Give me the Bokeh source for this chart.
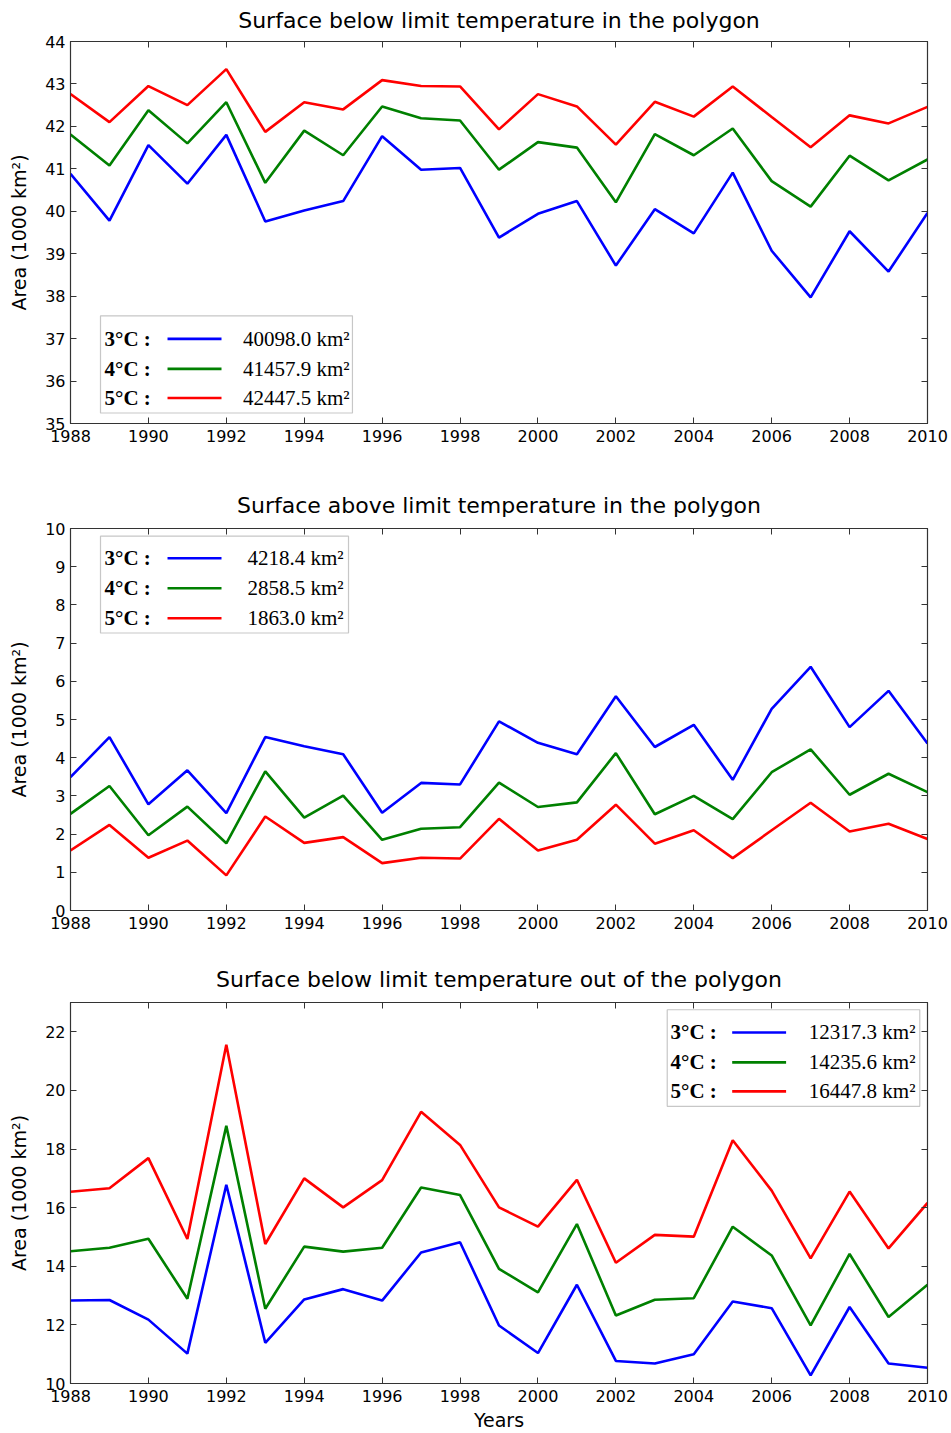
from bokeh.plotting import figure
from bokeh.models import (FixedTicker, LinearAxis, Range1d, Label, BoxAnnotation)
from bokeh.layouts import column
from bokeh.embed import file_html
from bokeh.resources import INLINE

years = list(range(1988, 2011))

# Panel 1: Surface below limit temperature in the polygon (1000 km2)
p1_3c = [40.88, 39.78, 41.56, 40.65, 41.80, 39.76, 40.02, 40.24, 41.77, 40.98, 41.02,
         39.38, 39.94, 40.24, 38.72, 40.05, 39.48, 40.91, 39.07, 37.97, 39.53, 38.58, 39.96]
p1_4c = [41.81, 41.08, 42.38, 41.60, 42.57, 40.67, 41.90, 41.32, 42.47, 42.19, 42.14,
         40.98, 41.63, 41.50, 40.21, 41.82, 41.32, 41.95, 40.71, 40.11, 41.31, 40.73, 41.22]
p1_5c = [42.76, 42.10, 42.95, 42.50, 43.35, 41.87, 42.57, 42.40, 43.09, 42.95, 42.94,
         41.93, 42.76, 42.47, 41.57, 42.58, 42.23, 42.94, 42.22, 41.51, 42.26, 42.07, 42.46]
p1_legend = ["40098.0 km²", "41457.9 km²", "42447.5 km²"]

# Panel 2: Surface above limit temperature in the polygon (1000 km2)
p2_3c = [3.49, 4.54, 2.78, 3.67, 2.55, 4.54, 4.30, 4.09, 2.56, 3.34, 3.30,
         4.95, 4.39, 4.09, 5.61, 4.28, 4.86, 3.42, 5.28, 6.38, 4.80, 5.75, 4.37]
p2_4c = [2.53, 3.26, 1.97, 2.72, 1.76, 3.64, 2.43, 3.01, 1.85, 2.14, 2.18,
         3.35, 2.71, 2.83, 4.12, 2.52, 3.00, 2.39, 3.62, 4.22, 3.03, 3.58, 3.10]
p2_5c = [1.57, 2.24, 1.38, 1.83, 0.92, 2.46, 1.77, 1.92, 1.24, 1.38, 1.36,
         2.40, 1.57, 1.85, 2.77, 1.75, 2.10, 1.37, 2.10, 2.82, 2.07, 2.27, 1.87]
p2_legend = ["4218.4 km²", "2858.5 km²", "1863.0 km²"]

# Panel 3: Surface below limit temperature out of the polygon (1000 km2)
p3_3c = [12.83, 12.85, 12.18, 11.02, 16.78, 11.39, 12.87, 13.22, 12.83, 14.47, 14.82,
         11.98, 11.04, 13.37, 10.77, 10.68, 11.00, 12.80, 12.57, 10.28, 12.61, 10.68, 10.54]
p3_4c = [14.51, 14.63, 14.94, 12.89, 18.79, 12.55, 14.67, 14.50, 14.63, 16.69, 16.43,
         13.91, 13.11, 15.44, 12.32, 12.86, 12.91, 15.35, 14.37, 11.98, 14.42, 12.27, 13.37]
p3_5c = [16.54, 16.66, 17.69, 14.93, 21.56, 14.76, 17.00, 16.01, 16.94, 19.27, 18.14,
         16.01, 15.35, 16.95, 14.12, 15.07, 15.01, 18.30, 16.58, 14.27, 16.55, 14.61, 16.16]
p3_legend = ["12317.3 km²", "14235.6 km²", "16447.8 km²"]

titles = ["Surface below limit temperature in the polygon",
          "Surface above limit temperature in the polygon",
          "Surface below limit temperature out of the polygon"]
legend_labels = ["3°C :", "4°C :", "5°C :"]
colors = ["#0000ff", "#008000", "#ff0000"]
x_ticks = list(range(1988, 2011, 2))

SANS = "DejaVu Sans"
SERIF = "Liberation Serif"


def make_panel(title, ylo, yhi, yticks, series, legend_vals, box, rows, lab_x, line_x,
               val_x, height, top, bottom, title_standoff, title_valign, xlabel=None):
    p = figure(width=949, height=height, output_backend="svg", toolbar_location=None,
               x_range=Range1d(1988, 2010), y_range=Range1d(ylo, yhi),
               min_border_left=70, min_border_right=22,
               min_border_top=top, min_border_bottom=bottom,
               background_fill_color="white", border_fill_color="white")
    p.title.text = title
    p.title.align = "center"
    p.title.text_font = SANS
    p.title.text_font_size = "22px"
    p.title.text_font_style = "normal"
    p.title.text_color = "black"
    p.title.standoff = title_standoff
    p.title.vertical_align = title_valign
    p.grid.visible = False
    p.outline_line_color = "#333333"
    p.outline_line_width = 1.2

    for ax in (p.xaxis[0], p.yaxis[0]):
        ax.major_tick_in = 6
        ax.major_tick_out = 0
        ax.minor_tick_line_color = None
        ax.axis_line_color = "#333333"
        ax.major_tick_line_color = "#333333"
        ax.major_label_text_font = SANS
        ax.major_label_text_font_size = "16px"
        ax.major_label_text_color = "black"
    p.xaxis[0].ticker = FixedTicker(ticks=x_ticks)
    p.yaxis[0].ticker = FixedTicker(ticks=yticks)
    p.xaxis[0].major_label_standoff = 6
    p.yaxis[0].major_label_standoff = 5
    p.yaxis[0].axis_label = "Area (1000 km²)"
    p.yaxis[0].axis_label_text_font = SANS
    p.yaxis[0].axis_label_text_font_size = "19px"
    p.yaxis[0].axis_label_text_font_style = "normal"
    p.yaxis[0].axis_label_text_color = "black"
    p.yaxis[0].axis_label_standoff = 12
    if xlabel:
        p.xaxis[0].axis_label = xlabel
        p.xaxis[0].axis_label_text_font = SANS
        p.xaxis[0].axis_label_text_font_size = "19px"
        p.xaxis[0].axis_label_text_font_style = "normal"
        p.xaxis[0].axis_label_text_color = "black"
        p.xaxis[0].axis_label_standoff = 4

    # mirrored inward ticks on the top and right edges
    for loc, tk in (("above", x_ticks), ("right", yticks)):
        ax = LinearAxis(ticker=FixedTicker(ticks=tk), major_tick_in=6, major_tick_out=0,
                        minor_tick_line_color=None,
                        major_label_overrides={t: "" for t in tk},
                        major_label_text_font_size="1px",
                        major_label_standoff=0, axis_line_color="#333333",
                        major_tick_line_color="#333333")
        p.add_layout(ax, loc)

    for ys, c in zip(series, colors):
        p.line(years, ys, line_color=c, line_width=2.6)

    # legend, positioned as fractions of the frame
    fx = lambda f: 1988 + f * 22
    fy = lambda f: ylo + f * (yhi - ylo)
    p.add_layout(BoxAnnotation(left=fx(box[0]), right=fx(box[1]), bottom=fy(box[2]), top=fy(box[3]),
                               fill_color="white", fill_alpha=1.0, line_color="#444444",
                               line_width=1.2, level="annotation"))
    for i in range(3):
        yy = fy(rows[i])
        p.add_layout(Label(x=fx(lab_x), y=yy, text=legend_labels[i], text_font=SERIF,
                           text_font_style="bold", text_font_size="21px",
                           text_baseline="middle", text_align="left", text_color="black",
                           level="overlay"))
        p.segment(x0=[fx(line_x[0])], y0=[yy], x1=[fx(line_x[1])], y1=[yy],
                  line_color=colors[i], line_width=2.6, level="overlay")
        p.add_layout(Label(x=fx(val_x), y=yy, text=legend_vals[i], text_font=SERIF,
                           text_font_size="21px", text_baseline="middle",
                           text_align="right", text_color="black", level="overlay"))
    return p


p1 = make_panel(titles[0], 35, 44, list(range(35, 45)),
                [p1_3c, p1_4c, p1_5c], p1_legend,
                box=(0.035, 0.329, 0.0275, 0.282), rows=(0.2215, 0.143, 0.0668),
                lab_x=0.0397, line_x=(0.1132, 0.1762), val_x=0.3256,
                height=470, top=41, bottom=47, title_standoff=14, title_valign="top")
p2 = make_panel(titles[1], 0, 10, list(range(0, 11)),
                [p2_3c, p2_4c, p2_5c], p2_legend,
                box=(0.035, 0.3244, 0.7265, 0.98), rows=(0.922, 0.8436, 0.765),
                lab_x=0.0397, line_x=(0.1132, 0.1762), val_x=0.3186,
                height=475, top=58, bottom=35, title_standoff=22, title_valign="bottom")
p3 = make_panel(titles[2], 10, 23, list(range(10, 23, 2)),
                [p3_3c, p3_4c, p3_5c], p3_legend,
                box=(0.6963, 0.991, 0.7275, 0.981), rows=(0.9214, 0.8428, 0.7668),
                lab_x=0.7001, line_x=(0.7721, 0.835), val_x=0.986,
                height=488, top=57, bottom=50, title_standoff=22, title_valign="bottom",
                xlabel="Years")

layout = column(p1, p2, p3, spacing=0)
open("out.html", "w").write(file_html(layout, INLINE))
